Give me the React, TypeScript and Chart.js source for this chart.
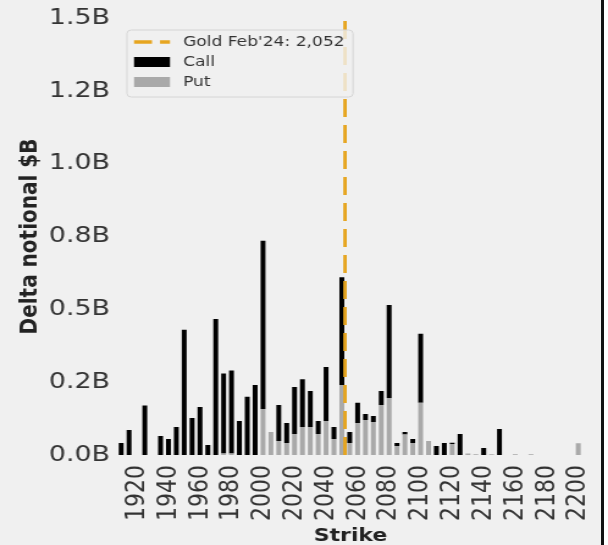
import React, { useEffect, useRef } from "react";
import { Chart, registerables } from "chart.js";

Chart.register(...registerables);

const strikes = [
  1910, 1915, 1920, 1925, 1930, 1935, 1940, 1945, 1950, 1955,
  1960, 1965, 1970, 1975, 1980, 1985, 1990, 1995, 2000, 2005,
  2010, 2015, 2020, 2025, 2030, 2035, 2040, 2045, 2050, 2055,
  2060, 2065, 2070, 2075, 2080, 2085, 2090, 2095, 2100, 2105,
  2110, 2115, 2120, 2125, 2130, 2135, 2140, 2145, 2150, 2155,
  2160, 2165, 2170, 2175, 2180, 2185, 2190, 2195, 2200,
];

// Call delta notional ($B)
const callValues = [
  0.041, 0.086, 0, 0.17, 0, 0.065, 0.055, 0.096, 0.43, 0.127,
  0.165, 0.034, 0.467, 0.275, 0.285, 0.117, 0.2, 0.24, 0.577, 0,
  0.124, 0.069, 0.161, 0.164, 0.124, 0.045, 0.185, 0.041, 0.37, 0.038,
  0.069, 0.021, 0.021, 0.048, 0.319, 0.01, 0.009, 0.014, 0.237, 0,
  0.031, 0.041, 0.004, 0.072, 0, 0, 0.024, 0, 0.089, 0,
  0, 0, 0, 0, 0, 0, 0, 0, 0,
];

// Put delta notional ($B)
const putValues = [
  0, 0, 0, 0, 0, 0, 0, 0, 0, 0,
  0, 0, 0, 0.005, 0.005, 0, 0, 0, 0.158, 0.079,
  0.048, 0.041, 0.072, 0.096, 0.096, 0.072, 0.117, 0.055, 0.24, 0.041,
  0.11, 0.12, 0.113, 0.172, 0.196, 0.031, 0.07, 0.041, 0.179, 0.048,
  0, 0, 0.038, 0, 0.005, 0.003, 0, 0.003, 0, 0,
  0.003, 0, 0.003, 0, 0, 0, 0, 0, 0.04,
];

const spotLabel = "Gold Feb'24: 2,052";
const spotPrice = 2052;

const xTickValues = [1920, 1940, 1960, 1980, 2000, 2020, 2040, 2060, 2080, 2100, 2120, 2140, 2160, 2180, 2200];
const yTickValues = [0, 0.25, 0.5, 0.75, 1.0, 1.25, 1.5];
const yTickLabels = ["0.0B", "0.2B", "0.5B", "0.8B", "1.0B", "1.2B", "1.5B"];

const FONT = "'DejaVu Sans', sans-serif";

// The reference picture is stretched horizontally; draw on a narrower canvas and stretch it.
const PAGE_W = 608;
const PAGE_H = 545;
const CANVAS_W = 498;
const SX = PAGE_W / CANVAS_W;

const boxLegend = {
  id: "boxLegend",
  afterDatasetsDraw(chart: any) {
    const { ctx, chartArea } = chart;
    const x0 = chartArea.left + 9 / SX;
    const y0 = chartArea.top + 12;
    const w = 226 / SX;
    const h = 67;
    ctx.save();
    ctx.beginPath();
    if (ctx.roundRect) ctx.roundRect(x0, y0, w, h, 3.5);
    else ctx.rect(x0, y0, w, h);
    ctx.fillStyle = "rgba(240,240,240,0.8)";
    ctx.fill();
    ctx.strokeStyle = "#d4d4d4";
    ctx.lineWidth = 1;
    ctx.stroke();

    const ds = chart.data.datasets;
    const order = [0, 2, 1];
    ctx.font = `14px ${FONT}`;
    ctx.textBaseline = "middle";
    ctx.textAlign = "left";
    const sx0 = x0 + 7 / SX;
    const sx1 = x0 + 43 / SX;
    order.forEach((di: number, i: number) => {
      const d = ds[di];
      const cy = y0 + 12 + i * 20;
      if (d.type === "line") {
        ctx.beginPath();
        ctx.setLineDash([18 / SX, 8 / SX]);
        ctx.strokeStyle = d.borderColor;
        ctx.lineWidth = 3.5;
        ctx.moveTo(sx0, cy);
        ctx.lineTo(sx1, cy);
        ctx.stroke();
        ctx.setLineDash([]);
      } else {
        ctx.fillStyle = d.backgroundColor;
        ctx.fillRect(sx0, cy - 5, sx1 - sx0, 10);
      }
      ctx.fillStyle = "#333";
      ctx.fillText(d.label, x0 + 56 / SX, cy);
    });
    ctx.restore();
  },
};

export default function App() {
  const ref = useRef<HTMLCanvasElement>(null);

  useEffect(() => {
    if (!ref.current) return;
    const chart = new Chart(ref.current, {
      type: "bar",
      data: {
        datasets: [
          {
            type: "line",
            label: spotLabel,
            data: [
              { x: spotPrice, y: 0 },
              { x: spotPrice, y: 1.5 },
            ],
            borderColor: "#e6a520",
            borderWidth: 3.5 / SX,
            borderDash: [18, 8],
            pointRadius: 0,
            order: 0,
          } as any,
          {
            type: "bar",
            label: "Put",
            data: strikes.map((s, i) => ({ x: s, y: putValues[i] })),
            backgroundColor: "#a9a9a9",
            barPercentage: 0.62,
            categoryPercentage: 1,
            order: 1,
          },
          {
            type: "bar",
            label: "Call",
            data: strikes.map((s, i) => ({ x: s, y: callValues[i] })),
            backgroundColor: "#000000",
            barPercentage: 0.62,
            categoryPercentage: 1,
            order: 2,
          },
        ],
      },
      options: {
        animation: false,
        responsive: false,
        layout: { padding: { left: 0, top: 18, right: CANVAS_W - 583 / SX, bottom: 0 } },
        plugins: {
          legend: { display: false },
          tooltip: { enabled: false },
        },
        scales: {
          x: {
            type: "linear",
            stacked: true,
            offset: false,
            min: 1908,
            max: 2203,
            grid: { display: false, drawTicks: false },
            border: { display: false },
            afterBuildTicks: (axis: any) => {
              axis.ticks = xTickValues.map((v) => ({ value: v }));
            },
            afterFit: (scale: any) => {
              scale.height = 90;
              scale.paddingLeft = 0;
              scale.paddingRight = 0;
            },
            ticks: {
              autoSkip: false,
              maxRotation: 90,
              minRotation: 90,
              padding: 10,
              color: "#333",
              font: { family: FONT, size: 22 },
              callback: (v: any) => String(v),
            },
            title: {
              display: true,
              text: "Strike",
              color: "#222",
              font: { family: FONT, size: 18, weight: "bold", lineHeight: 1 },
              padding: { top: 0, bottom: 0 },
            },
          },
          y: {
            stacked: true,
            min: 0,
            max: 1.5,
            grid: { display: false, drawTicks: false },
            border: { display: false },
            afterBuildTicks: (axis: any) => {
              axis.ticks = yTickValues.map((v) => ({ value: v }));
            },
            afterFit: (scale: any) => {
              scale.width = 118 / SX;
              scale.paddingTop = 0;
              scale.paddingBottom = 0;
            },
            ticks: {
              padding: 8 / SX,
              color: "#333",
              font: { family: FONT, size: 22 },
              callback: (_v: any, i: number) => yTickLabels[i],
            },
            title: {
              display: true,
              text: "Delta notional $B",
              color: "#222",
              font: { family: FONT, size: 20, weight: "bold", lineHeight: 1.2 },
              padding: { top: 30 / SX - 12, bottom: 0 },
            },
          },
        },
      },
      plugins: [boxLegend],
    });
    return () => chart.destroy();
  }, []);

  return (
    <div
      style={{
        position: "fixed",
        left: 0,
        top: 0,
        width: PAGE_W,
        height: PAGE_H,
        background: "#f0f0f0",
        overflow: "hidden",
      }}
    >
      <canvas
        ref={ref}
        width={CANVAS_W}
        height={PAGE_H}
        style={{
          display: "block",
          width: CANVAS_W,
          height: PAGE_H,
          transform: `scaleX(${SX})`,
          transformOrigin: "0 0",
        }}
      />
      <div
        style={{
          position: "absolute",
          left: 601,
          top: 0,
          width: 3,
          height: PAGE_H,
          background: "#111",
        }}
      />
      <div
        style={{
          position: "absolute",
          left: 604,
          top: 0,
          width: 4,
          height: PAGE_H,
          background: "#fff",
        }}
      />
    </div>
  );
}
